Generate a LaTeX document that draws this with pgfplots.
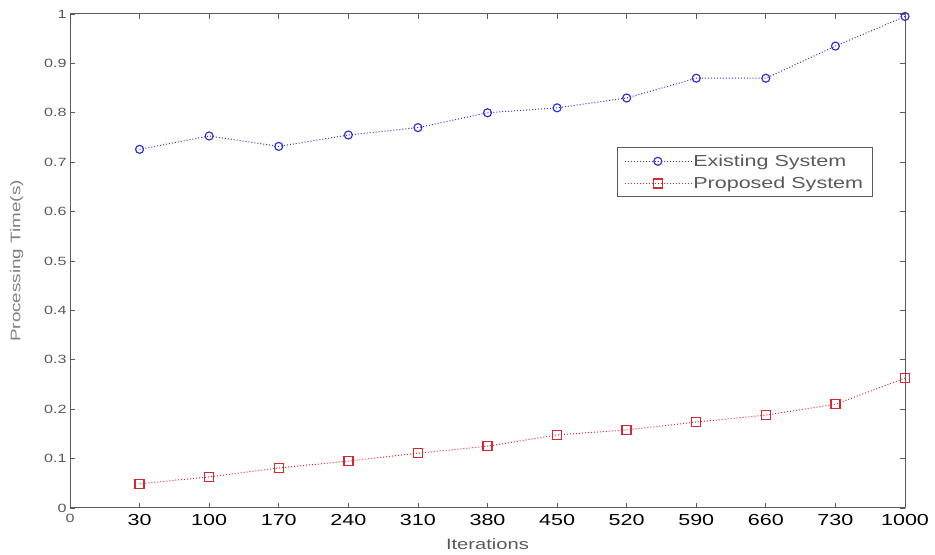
\documentclass[border=0pt]{standalone}
\usepackage{fontspec}
\setmainfont{Liberation Sans}[FakeStretch=1.35]
\usepackage{pgfplots}
\pgfplotsset{compat=1.18}

\definecolor{exblue}{RGB}{50,50,210}
\definecolor{prred}{RGB}{215,40,50}
\definecolor{axgray}{RGB}{90,90,90}

\begin{document}
\begin{tikzpicture}[x=1bp,y=1bp]
\path[use as bounding box] (-70,-47) rectangle (865,508);
\begin{axis}[
    scale only axis,
    width=835bp, height=494bp,
    xmin=0, xmax=12, ymin=0, ymax=1,
    xtick={0,1,2,3,4,5,6,7,8,9,10,11,12},
    xticklabels={{\textcolor{axgray}{\fontsize{12}{12}\selectfont\raisebox{-5bp}{0}}},30,100,170,240,310,380,450,520,590,660,730,1000},
    ytick={0,0.1,0.2,0.3,0.4,0.5,0.6,0.7,0.8,0.9,1},
    yticklabels={0,0.1,0.2,0.3,0.4,0.5,0.6,0.7,0.8,0.9,1},
    x tick label style={font=\fontsize{16}{16}\selectfont, black, yshift=-3bp},
    y tick label style={font=\fontsize{12}{12}\selectfont, text=axgray},
    tick align=inside, major tick length=5bp,
    tick style={axgray, line width=0.8pt},
    axis line style={axgray, line width=1pt},
    xlabel={Iterations}, ylabel={Processing Time(s)},
    xlabel style={font=\fontsize{15}{15}\selectfont, text=axgray, yshift=-6bp},
    ylabel style={font=\fontsize{14}{14}\selectfont, text=gray, yshift=14bp},
    legend style={at={(0.655,0.73)}, anchor=north west, draw=axgray, line width=0.8pt,
        font=\fontsize{16}{18}\selectfont, text=axgray, inner xsep=7bp, inner ysep=5bp,
        row sep=5bp, cells={anchor=west}},
    legend image code/.code={\draw[mark repeat=2,mark phase=2]
        plot coordinates {(0bp,0bp)(33bp,0bp)(66bp,0bp)};},
    legend cell align=left,
]
\addplot[exblue, dotted, line width=1pt, mark=o, mark size=4bp,
    mark options={solid, line width=1.2pt}] coordinates {
    (1,0.726)(2,0.753)(3,0.732)(4,0.755)(5,0.770)(6,0.800)
    (7,0.810)(8,0.830)(9,0.870)(10,0.870)(11,0.935)(12,0.995)};
\addlegendentry{Existing System}
\addplot[prred, dotted, line width=1pt, mark=square, mark size=4.5bp,
    mark options={solid, line width=1.4pt}] coordinates {
    (1,0.049)(2,0.063)(3,0.081)(4,0.095)(5,0.111)(6,0.125)
    (7,0.148)(8,0.158)(9,0.174)(10,0.188)(11,0.210)(12,0.263)};
\addlegendentry{Proposed System}
\end{axis}
\end{tikzpicture}
\end{document}
